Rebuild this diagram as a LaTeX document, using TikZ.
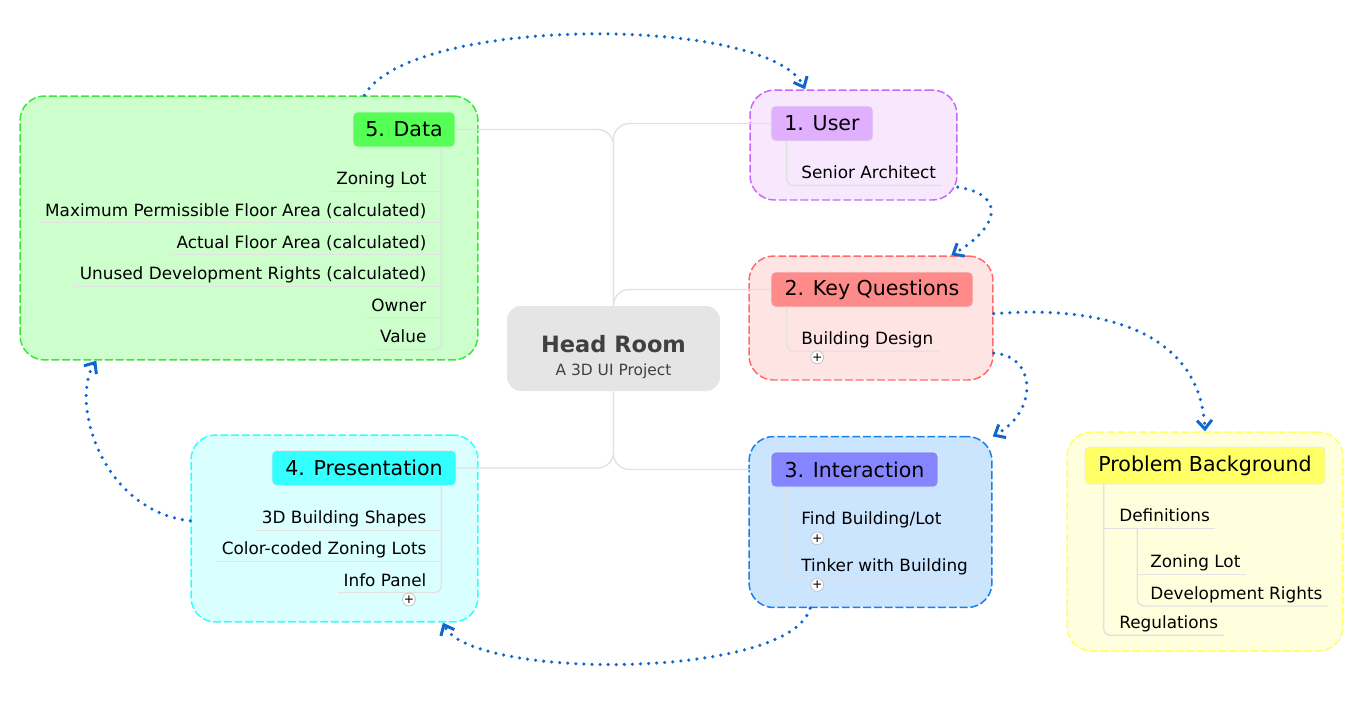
\documentclass[tikz,border=0pt]{standalone}
\usepackage{fontspec}
\setmainfont{DejaVu Sans}
\usepackage{xcolor}
\usepackage{tikz}
\usetikzlibrary{arrows.meta,positioning}

\definecolor{linkblue}{HTML}{1166CC}
\definecolor{treegray}{HTML}{E2E2E2}
\definecolor{greenEdge}{HTML}{3AE83A}
\definecolor{greenFill}{HTML}{CCFFCC}
\definecolor{greenHead}{HTML}{55FF55}
\definecolor{purpleEdge}{HTML}{CC66FF}
\definecolor{purpleFill}{HTML}{F7E8FE}
\definecolor{purpleHead}{HTML}{E0B0FF}
\definecolor{redEdge}{HTML}{FF6B6B}
\definecolor{redFill}{HTML}{FFE4E4}
\definecolor{redHead}{HTML}{FF8A8A}
\definecolor{blueEdge}{HTML}{1A80E6}
\definecolor{blueFill}{HTML}{CCE5FF}
\definecolor{blueHead}{HTML}{8585FF}
\definecolor{yellowEdge}{HTML}{FFFF66}
\definecolor{yellowFill}{HTML}{FFFFDD}
\definecolor{yellowHead}{HTML}{FFFF66}
\definecolor{cyanEdge}{HTML}{33FFFF}
\definecolor{cyanFill}{HTML}{D9FFFF}
\definecolor{cyanHead}{HTML}{33FFFF}

\begin{document}
\begin{tikzpicture}[
    x=0.02cm, y=-0.02cm,
    font=\fontsize{9.6}{11}\selectfont,
    group/.style={draw, line width=0.85pt, dash pattern=on 4.5pt off 1.6pt, rounded corners=14pt, inner sep=0pt},
    head/.style={draw=black!8, rounded corners=2.5pt, minimum height=0.7cm, inner sep=0pt, font=\fontsize{11.7}{14}\selectfont},
    item/.style={inner xsep=3pt, inner ysep=1pt, text height=8pt, text depth=2.5pt},
    tree/.style={draw=treegray, line width=0.6pt, rounded corners=3pt},
    trunk/.style={draw=treegray, line width=0.8pt, rounded corners=4pt},
    spoke/.style={draw=treegray, line width=0.8pt, rounded corners=9pt},
    plus/.style={circle, draw=black!25, fill=white, inner sep=0pt, minimum size=0.22cm, font=\fontsize{7}{7}\selectfont},
    link/.style={linkblue, line width=2pt, line cap=round, dash pattern=on 0pt off 4.6pt,
        -{Straight Barb[length=5pt,width=8.5pt,line width=1.7pt]}}
]
\useasboundingbox (0,0) rectangle (1363,701);

\node[group, draw=greenEdge, fill=greenFill, minimum width=9.16cm, minimum height=5.28cm] (data) at (249,228) {};
\node[group, draw=purpleEdge, fill=purpleFill, minimum width=4.14cm, minimum height=2.2cm] (user) at (853.5,145) {};
\node[group, draw=redEdge, fill=redFill, minimum width=4.88cm, minimum height=2.48cm] (key) at (871,318) {};
\node[group, draw=blueEdge, fill=blueFill, minimum width=4.86cm, minimum height=3.42cm] (act) at (870.5,522) {};
\node[group, draw=yellowEdge, fill=yellowFill, minimum width=5.52cm, minimum height=4.38cm] (prob) at (1205,541.5) {};
\node[group, draw=cyanEdge, fill=cyanFill, minimum width=5.74cm, minimum height=3.74cm] (pres) at (334.5,528.5) {};

\node[fill=black!10, rounded corners=8pt, minimum width=4.26cm, minimum height=1.7cm, align=center, text=black!75, text height=32pt] (hub) at (613.5,348.5)
    {{\fontsize{12.8}{15}\bfseries Head Room}\\[2pt]{\fontsize{8.8}{11}\selectfont A 3D UI Project}};

\node[head, fill=greenHead, minimum width=2.04cm] (data0) at (404,129.5) {5. Data};
\node[head, fill=purpleHead, minimum width=2.04cm] (user0) at (822,123.5) {1. User};
\node[head, fill=redHead, minimum width=4.04cm] (key0) at (872,289.5) {2. Key Questions};
\node[head, fill=blueHead, minimum width=3.34cm] (act0) at (854.5,469.5) {3. Interaction};
\node[head, fill=yellowHead, minimum width=4.8cm, minimum height=0.74cm] (prob0) at (1205,465.5) {Problem Background};
\node[head, fill=cyanHead, minimum width=3.68cm] (pres0) at (364,468) {4. Presentation};

\draw[spoke] (hub.north) |- (data0.east);
\draw[spoke] (hub.north) |- (user0.west);
\draw[spoke] (hub.north) |- (key0.west);
\draw[spoke] (hub.south) |- (pres0.east);
\draw[spoke] (hub.south) |- (act0.west);

\node[item, anchor=east] (d1) at (432,180) {Zoning Lot};
\node[item, below left=5.1pt and 0pt of d1.south east] (d2) {Maximum Permissible Floor Area (calculated)};
\node[item, below left=5.1pt and 0pt of d2.south east] (d3) {Actual Floor Area (calculated)};
\node[item, below left=5.1pt and 0pt of d3.south east] (d4) {Unused Development Rights (calculated)};
\node[item, below left=5.1pt and 0pt of d4.south east] (d5) {Owner};
\node[item, below left=5.1pt and 0pt of d5.south east] (d6) {Value};
\coordinate (dTrunk) at ([xshift=-0.28cm]data0.south east);
\draw[trunk] (dTrunk) |- (d6.south west);
\draw[tree] (d1.south west) -- (d1.south -| dTrunk);
\draw[tree] (d2.south west) -- (d2.south -| dTrunk);
\draw[tree] (d3.south west) -- (d3.south -| dTrunk);
\draw[tree] (d4.south west) -- (d4.south -| dTrunk);
\draw[tree] (d5.south west) -- (d5.south -| dTrunk);

\node[item, anchor=west] (u1) at (795.7,174) {Senior Architect};
\coordinate (uTrunk) at ([xshift=0.32cm]user0.south west);
\draw[trunk] (uTrunk) |- (u1.south east);

\node[item, anchor=west] (k1) at (795.7,340) {Building Design};
\coordinate (kTrunk) at ([xshift=0.32cm]key0.south west);
\draw[trunk] (kTrunk) |- (k1.south east);
\node[plus] (kPlus) at ([xshift=0.43cm,yshift=-0.12cm]k1.south west) {+};

\node[item, anchor=west] (a1) at (795.7,520) {Find Building/Lot};
\node[item, below right=13.6pt and 0pt of a1.south west] (a2) {Tinker with Building};
\coordinate (aTrunk) at ([xshift=0.32cm]act0.south west);
\draw[trunk] (aTrunk) |- (a2.south east);
\draw[tree] (a1.south -| aTrunk) -- (a1.south east);
\node[plus] (aPlus1) at ([xshift=0.43cm,yshift=-0.14cm]a1.south west) {+};
\node[plus] (aPlus2) at ([xshift=0.43cm,yshift=-0.14cm]a2.south west) {+};

\node[item, anchor=west] (p1) at (1113.7,517) {Definitions};
\node[item, anchor=west] (p2) at (1144.7,563) {Zoning Lot};
\node[item, below right=5.1pt and 0pt of p2.south west] (p3) {Development Rights};
\node[item, anchor=west] (p4) at (1113.7,624) {Regulations};
\coordinate (pTrunk) at ([xshift=0.38cm]prob0.south west);
\draw[trunk] (pTrunk) |- (p4.south east);
\draw[tree] (p1.south -| pTrunk) -- (p1.south east);
\coordinate (qTrunk) at ([xshift=0.47cm]p1.south west);
\draw[trunk] (qTrunk) |- (p3.south east);
\draw[tree] (p2.south -| qTrunk) -- (p2.south east);

\node[item, anchor=east] (s1) at (432,519) {3D Building Shapes};
\node[item, below left=4.8pt and 0pt of s1.south east] (s2) {Color-coded Zoning Lots};
\node[item, below left=4.8pt and 0pt of s2.south east] (s3) {Info Panel};
\coordinate (sTrunk) at ([xshift=-0.3cm]pres0.south east);
\draw[trunk] (sTrunk) |- (s3.south west);
\draw[tree] (s1.south west) -- (s1.south -| sTrunk);
\draw[tree] (s2.south west) -- (s2.south -| sTrunk);
\node[plus] (sPlus) at ([xshift=-0.46cm,yshift=-0.14cm]s3.south east) {+};

\draw[link] (data.49) .. controls (410,15) and (770,15) .. (user.131);
\draw[link] (user.-22) .. controls (1008,195) and (998,228) .. (key.38);
\draw[link] (key.2) .. controls (1100,305) and (1200,330) .. (prob.north);
\draw[link] (key.-16) .. controls (1035,355) and (1040,410) .. (act.35);
\draw[link] (act.-125) .. controls (790,680) and (470,680) .. (pres.-41);
\draw[link] (pres.177) .. controls (100,510) and (70,400) .. (data.221);
\end{tikzpicture}
\end{document}
